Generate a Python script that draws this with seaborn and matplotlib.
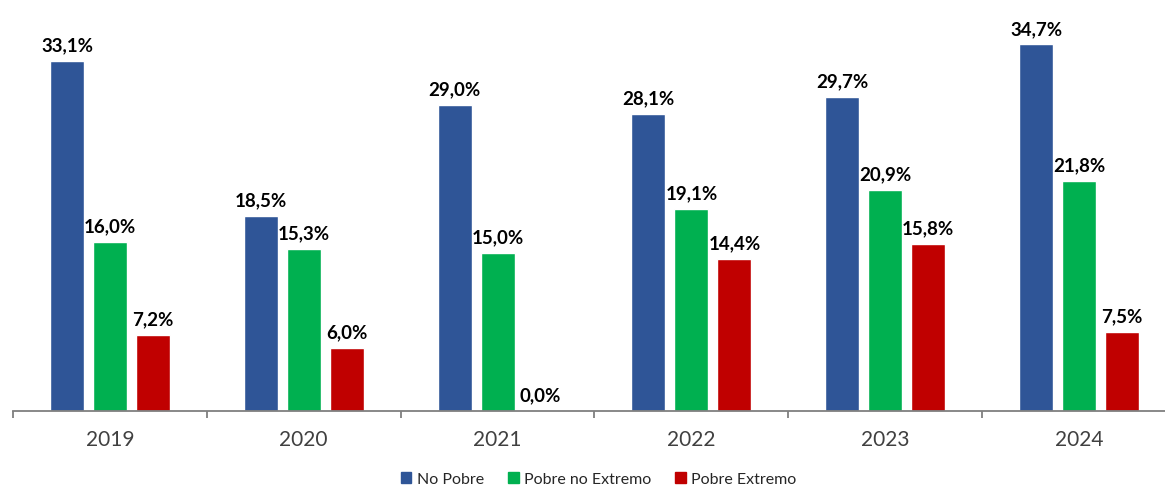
import pandas as pd
import numpy as np
import matplotlib.pyplot as plt
import seaborn as sns

# ---- DATA ----
years = ["2019", "2020", "2021", "2022", "2023", "2024"]
no_pobre = [33.1, 18.5, 29.0, 28.1, 29.7, 34.7]
pobre_no_extremo = [16.0, 15.3, 15.0, 19.1, 20.9, 21.8]
pobre_extremo = [7.2, 6.0, 0.0, 14.4, 15.8, 7.5]
series = ["No Pobre", "Pobre no Extremo", "Pobre Extremo"]
colors = ["#2F5597", "#00B050", "#C00000"]

df = pd.DataFrame({
    "Year": years * 3,
    "Serie": [s for s in series for _ in years],
    "Valor": no_pobre + pobre_no_extremo + pobre_extremo,
})

sns.set_style("white")
plt.rcParams["font.family"] = ["Lato", "DejaVu Sans"]

fig = plt.figure(figsize=(11.65, 4.89), dpi=100)
ax = fig.add_axes([13 / 1165, 77 / 489, 1163 / 1165, 412 / 489])

sns.barplot(data=df, x="Year", y="Valor", hue="Serie", hue_order=series,
            palette=colors, width=0.665, gap=0.21, saturation=1,
            legend=False, ax=ax)

# ---- LABELS ----
for cont in ax.containers:
    labels = [f"{b.get_height():.1f}%".replace(".", ",") for b in cont]
    ax.bar_label(cont, labels=labels, padding=5.5, fontsize=13.5,
                 fontweight="bold", color="black")

ax.set_ylim(0, 39)
ax.set_xlim(-0.5, 5.5)
ax.set_xlabel("")
ax.set_ylabel("")
ax.set_yticks([])
for side in ["top", "right", "left"]:
    ax.spines[side].set_visible(False)
ax.spines["bottom"].set_color("#7F7F7F")
ax.spines["bottom"].set_linewidth(1.3)

ax.set_xticks(np.arange(len(years)))
ax.set_xticklabels(years, fontsize=15, color="#404040")
ax.tick_params(axis="x", which="major", length=0, pad=13)
ax.set_xticks(np.arange(len(years)) - 0.5, minor=True)
ax.tick_params(axis="x", which="minor", length=5, width=1.3, color="#7F7F7F",
               bottom=True)

# ---- LEGEND ----
handles = [plt.Rectangle((0, 0), 1, 1, color=c) for c in colors]
fig.legend(handles, series, loc="center", bbox_to_anchor=(0.514, 0.018),
           ncol=3, frameon=False, fontsize=11.5, handlelength=0.65,
           handleheight=0.65, handletextpad=0.35, columnspacing=1.5)

plt.savefig("out.png", dpi=100)
